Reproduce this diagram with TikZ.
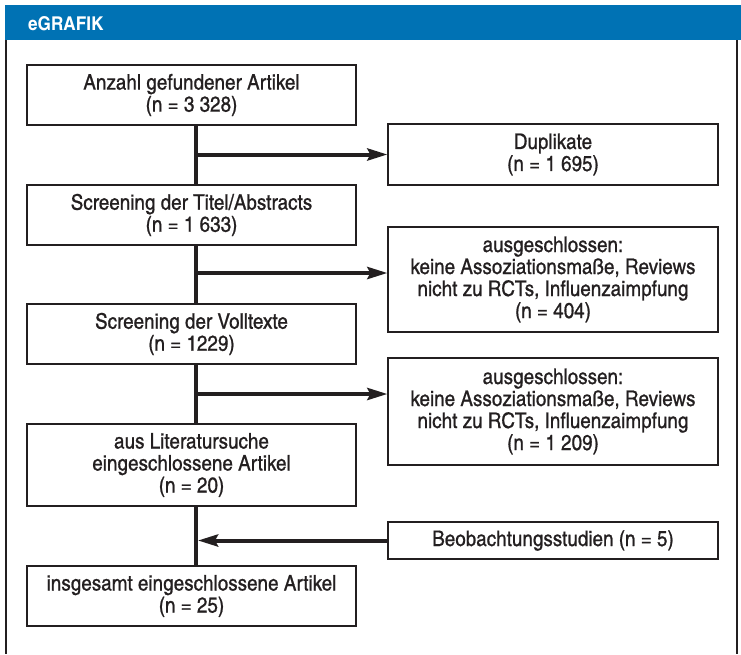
\documentclass[tikz,border=0pt]{standalone}
\usepackage{fontspec}
\setmainfont{texgyreheroscn-regular.otf}[BoldFont=texgyreheroscn-bold.otf,FakeStretch=1.1]
\newfontfamily\boxfont{texgyreheroscn-regular.otf}[FakeStretch=1.07,FakeBold=0.8]
\usetikzlibrary{arrows.meta}
\definecolor{headblue}{RGB}{0,114,180}
\definecolor{inkgray}{RGB}{35,31,32}

\begin{document}
\begin{tikzpicture}[x=1pt,y=1pt,yscale=-1,
    flowbox/.style={draw=inkgray,line width=1.2pt,align=center,inner sep=0pt,text=inkgray,font=\boxfont\fontsize{21.5}{22}\selectfont},
    leftbox/.style={flowbox,minimum width=329pt},
    rightbox/.style={flowbox,minimum width=330pt},
    flowline/.style={draw=inkgray,line width=4pt},
    flowarrow/.style={flowline,-{Stealth[length=20pt,width=12pt,inset=3pt]}}]
    \useasboundingbox (0,0) rectangle (741,654);

    %Header bar
    \fill[headblue] (5,5) rectangle (741,40);
    \node[anchor=base west,inner sep=0pt,text=white,font=\bfseries\fontsize{19}{19}\selectfont] (title) at (28,30) {eGRAFIK};
    %Frame
    \draw[inkgray,line width=2pt] (6,40) -- (6,654);
    \draw[inkgray,line width=2pt] (737,40) -- (737,654);

    %Left column
    \node[leftbox,minimum height=60pt] (found) at (191.5,95) {Anzahl gefundener Artikel\\(n = 3 328)};
    \node[leftbox,minimum height=60pt] (titles) at (191.5,215) {Screening der Titel/Abstracts\\(n = 1 633)};
    \node[leftbox,minimum height=60pt] (fulltext) at (191.5,334) {Screening der Volltexte\\(n = 1229)};
    \node[leftbox,minimum height=82pt] (included) at (191.5,465) {aus Literatursuche\\eingeschlossene Artikel\\(n = 20)};
    \node[leftbox,minimum height=60pt] (total) at (191.5,596) {insgesamt eingeschlossene Artikel\\(n = 25)};

    %Right column
    \node[rightbox,minimum height=61pt] (dupl) at (553,154.5) {Duplikate\\(n = 1 695)};
    \node[rightbox,minimum height=105pt] (exclA) at (553,279.5) {ausgeschlossen:\\keine Assoziationsmaße, Reviews\\nicht zu RCTs, Influenzaimpfung\\(n = 404)};
    \node[rightbox,minimum height=107pt] (exclB) at (553,411.5) {ausgeschlossen:\\keine Assoziationsmaße, Reviews\\nicht zu RCTs, Influenzaimpfung\\(n = 1 209)};
    \node[rightbox,minimum height=37pt] (observ) at (553,540.5) {Beobachtungsstudien (n = 5)};

    %Spine
    \coordinate (spine) at (196,0);
    \draw[flowline] (found.south -| spine) -- (titles.north -| spine);
    \draw[flowline] (titles.south -| spine) -- (fulltext.north -| spine);
    \draw[flowline] (fulltext.south -| spine) -- (included.north -| spine);
    \draw[flowline] (included.south -| spine) -- (total.north -| spine);

    %Branches
    \coordinate (jB) at (196,273);
    \coordinate (jC) at (196,394);
    \draw[flowarrow] (spine |- dupl.west) -- (dupl.west);
    \draw[flowarrow] (jB) -- (jB -| exclA.west);
    \draw[flowarrow] (jC) -- (jC -| exclB.west);
    \draw[flowarrow] (observ.west) -- ([xshift=2pt]observ.west -| spine);
\end{tikzpicture}
\end{document}
